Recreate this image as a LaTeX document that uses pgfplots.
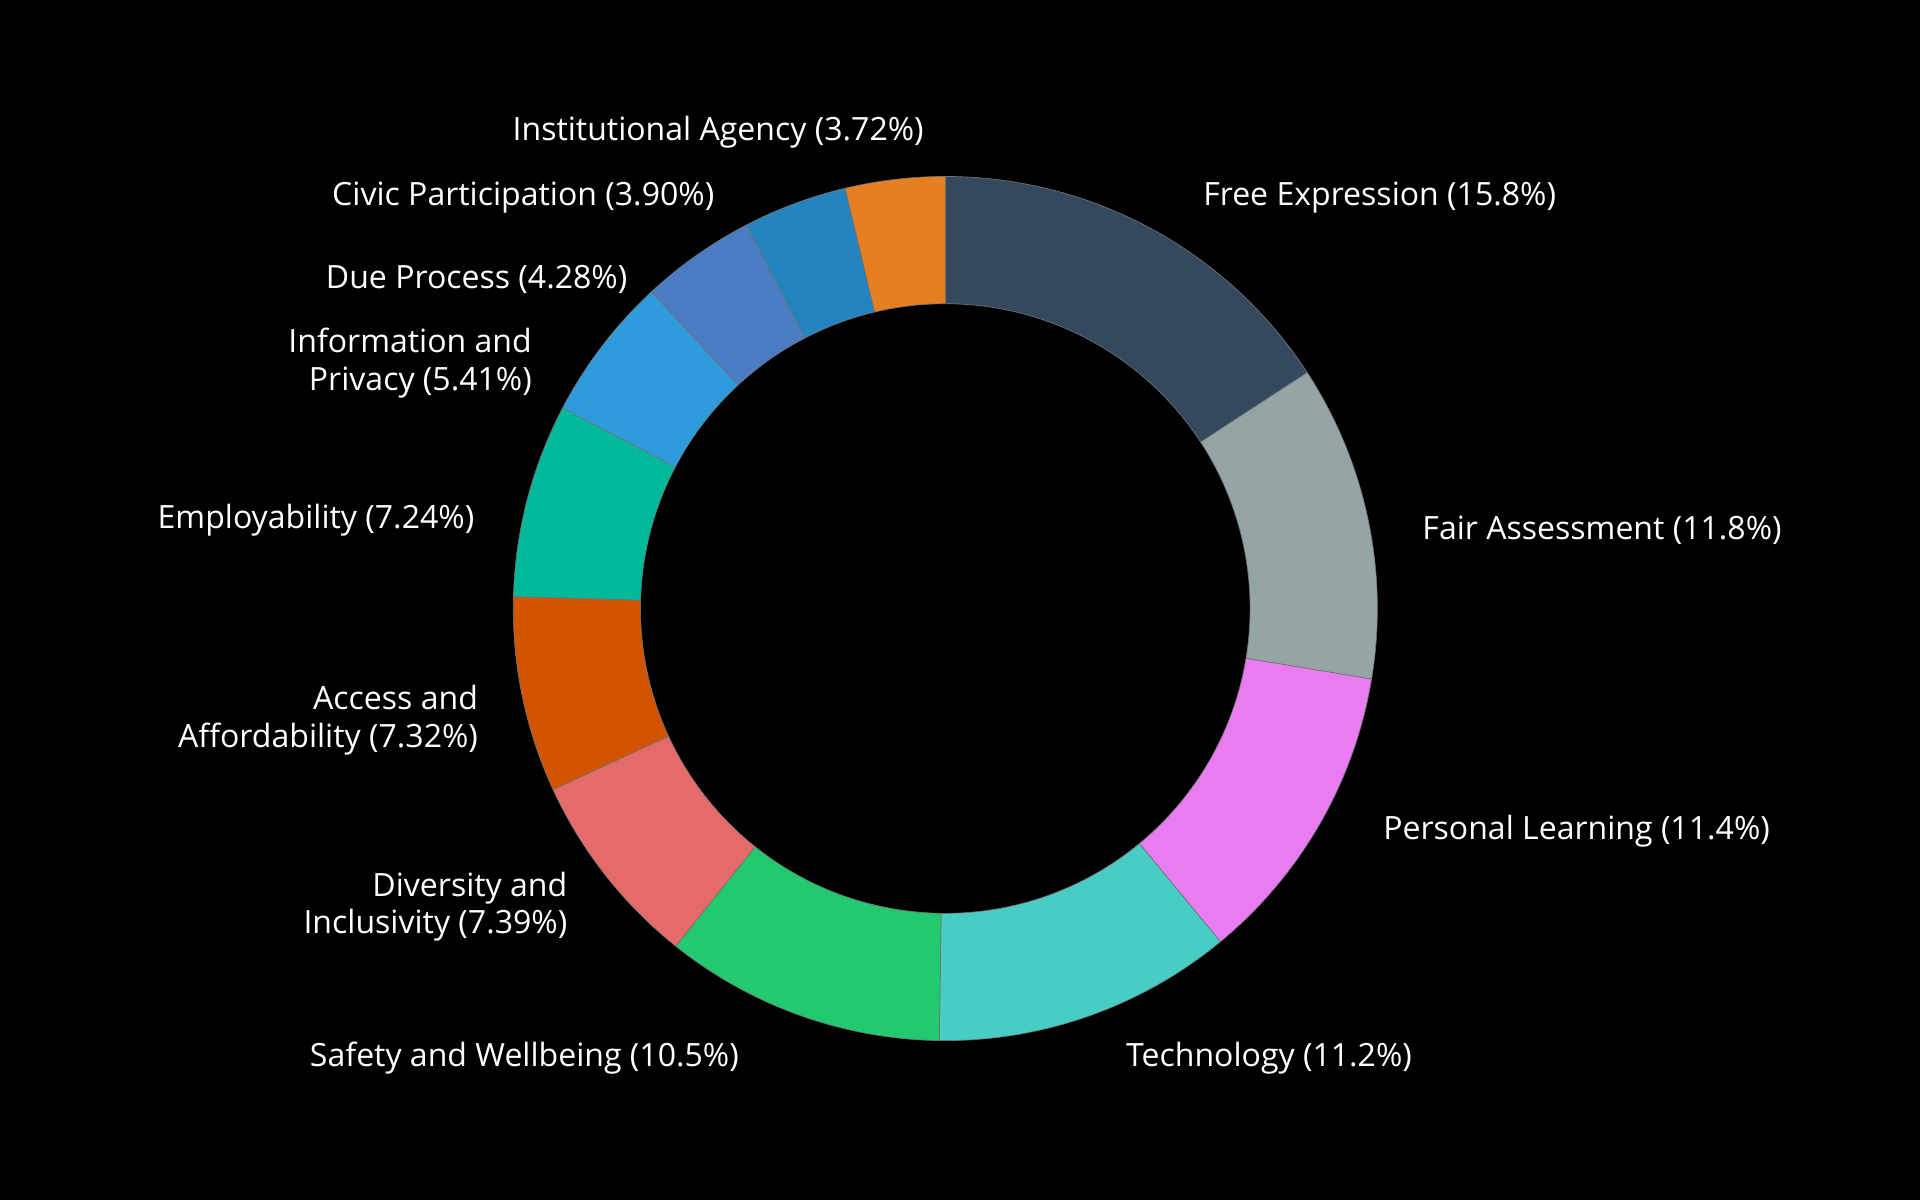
\documentclass[border=0pt]{standalone}
\usepackage{fontspec}
\setmainfont{Open Sans}
\usepackage{pgfplots}
\usepackage{pgfplotstable}
\pgfplotsset{compat=1.18}

\definecolor{cFree}{HTML}{34495E}
\definecolor{cFair}{HTML}{95A5A6}
\definecolor{cPers}{HTML}{E87CF0}
\definecolor{cTech}{HTML}{48CDC4}
\definecolor{cSafe}{HTML}{22C96E}
\definecolor{cDiv}{HTML}{E56B6B}
\definecolor{cAcc}{HTML}{D35400}
\definecolor{cEmp}{HTML}{00B99B}
\definecolor{cInfo}{HTML}{2E9BDD}
\definecolor{cDue}{HTML}{4A7CC4}
\definecolor{cCiv}{HTML}{2384C0}
\definecolor{cInst}{HTML}{E67E22}

% slices, clockwise from 12 o'clock
\pgfplotstableread[col sep=comma]{
name,value,col
Free Expression,15.8,cFree
Fair Assessment,11.8,cFair
Personal Learning,11.4,cPers
Technology,11.2,cTech
Safety and Wellbeing,10.5,cSafe
Diversity and Inclusivity,7.39,cDiv
Access and Affordability,7.32,cAcc
Employability,7.24,cEmp
Information and Privacy,5.41,cInfo
Due Process,4.28,cDue
Civic Participation,3.90,cCiv
Institutional Agency,3.72,cInst
}\slices

\begin{document}
\begin{tikzpicture}
\begin{axis}[
    x=0.0102041cm, y=0.0102041cm,
    xmin=0, xmax=1568, ymin=0, ymax=980,
    hide axis, clip=false,
]
\pgfplotsextra{
  \fill[black] (rel axis cs:0,0) rectangle (rel axis cs:1,1);
  \coordinate (c) at (axis cs:772,483);
  \pgfplotstablegetrowsof{\slices}
  \pgfmathtruncatemacro{\last}{\pgfplotsretval-1}
  \gdef\total{0}
  \foreach \i in {0,...,\last}{
    \pgfplotstablegetelem{\i}{value}\of{\slices}
    \pgfmathsetmacro{\t}{\total+\pgfplotsretval}
    \xdef\total{\t}
  }
  \gdef\cur{90}
  \foreach \i in {0,...,\last}{
    \pgfplotstablegetelem{\i}{value}\of{\slices}
    \pgfmathsetmacro{\aend}{\cur-360*\pgfplotsretval/\total}
    \pgfplotstablegetelem{\i}{col}\of{\slices}
    \edef\col{\pgfplotsretval}
    \fill[\col, draw=black!55, line width=0.15pt]
      ([shift={(\cur:3.602cm)}]c) arc[start angle=\cur, end angle=\aend, radius=3.602cm]
      -- ([shift={(\aend:2.541cm)}]c) arc[start angle=\aend, end angle=\cur, radius=2.541cm]
      -- cycle;
    \xdef\cur{\aend}
  }
}
\tikzset{lab/.style={text=white, inner sep=0pt, font=\fontsize{7.6}{9}\selectfont, align=right}}
\node[lab, anchor=west] at (axis cs:982,819) {Free Expression (15.8\%)};
\node[lab, anchor=west] at (axis cs:1161,547) {Fair Assessment (11.8\%)};
\node[lab, anchor=west] at (axis cs:1129,301) {Personal Learning (11.4\%)};
\node[lab, anchor=west] at (axis cs:919,116) {Technology (11.2\%)};
\node[lab, anchor=east] at (axis cs:604,116) {Safety and Wellbeing (10.5\%)};
\node[lab, anchor=east] at (axis cs:464,239.5) {Diversity and\\Inclusivity (7.39\%)};
\node[lab, anchor=east] at (axis cs:391,391.5) {Access and\\Affordability (7.32\%)};
\node[lab, anchor=east] at (axis cs:388,555) {Employability (7.24\%)};
\node[lab, anchor=east] at (axis cs:435,683.5) {Information and\\Privacy (5.41\%)};
\node[lab, anchor=east] at (axis cs:513,752) {Due Process (4.28\%)};
\node[lab, anchor=east] at (axis cs:584,819) {Civic Participation (3.90\%)};
\node[lab, anchor=east] at (axis cs:755,872) {Institutional Agency (3.72\%)};
\end{axis}
\end{tikzpicture}
\end{document}
